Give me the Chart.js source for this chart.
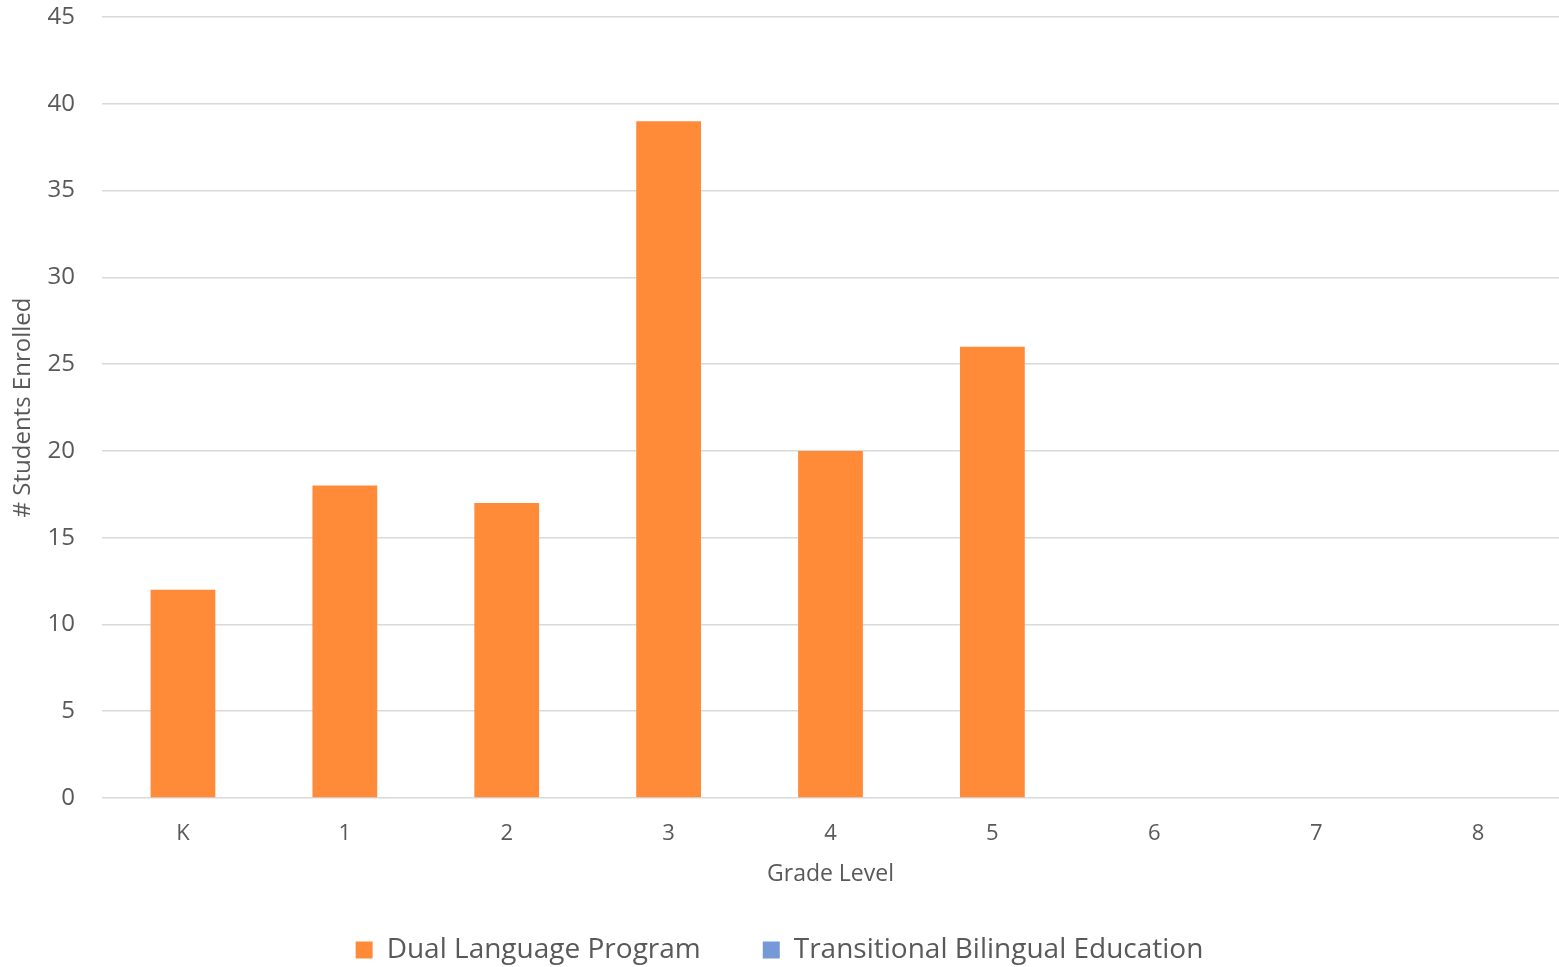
<!DOCTYPE html>
<html><head><meta charset="utf-8">
<script src="https://cdn.jsdelivr.net/npm/chart.js@4"></script>
<style>html,body{margin:0;padding:0;background:#fff}#wrap{width:1559px;height:967px}</style>
</head><body><div id="wrap"><canvas id="c" width="1559" height="967"></canvas></div>
<script>
const categories = ["K","1","2","3","4","5","6","7","8"];
const dualLanguage = [12,18,17,39,20,26,null,null,null];
const transitional = [null,null,null,null,null,null,null,null,null];
const yTicks = [0,5,10,15,20,25,30,35,40,45];

const FONT = "'Open Sans', sans-serif";
const TXT = "#595959";
new Chart(document.getElementById('c'), {
  type: 'bar',
  data: {
    labels: categories,
    datasets: [
      {label: "Dual Language Program", data: dualLanguage, backgroundColor: "#FF8A38", barPercentage: 0.4, categoryPercentage: 1.0, grouped: false},
      {label: "Transitional Bilingual Education", data: transitional, backgroundColor: "#7499D6", barPercentage: 0.4, categoryPercentage: 1.0, grouped: false}
    ]
  },
  options: {
    responsive: false, animation: false,
    layout: {padding: {top: 17, right: 0, left: 0, bottom: -7}},
    plugins: {
      tooltip: {enabled: false},
      legend: {position: 'bottom', labels: {font: {family: FONT, size: 28}, color: TXT, boxWidth: 17, boxHeight: 17, padding: 62}}
    },
    scales: {
      x: {
        grid: {display: false, drawTicks: false},
        border: {display: false},
        ticks: {font: {family: FONT, size: 22}, color: TXT, padding: 23},
        title: {display: true, text: "Grade Level", font: {family: FONT, size: 23}, color: TXT, padding: {top: 0, bottom: -14}},
        afterFit: s => { s.height = 76; }
      },
      y: {
        min: 0, max: 45,
        afterBuildTicks: s => { s.ticks = yTicks.map(v => ({value: v})); },
        grid: {color: "#d9d9d9", lineWidth: 1.5, drawTicks: false},
        border: {display: false},
        ticks: {font: {family: FONT, size: 24}, color: TXT, padding: 27},
        title: {display: true, text: "# Students Enrolled", font: {family: FONT, size: 24}, color: TXT, padding: {top: 9, bottom: 0}},
        afterFit: s => { s.width = 102; s.paddingTop = 0; s.paddingBottom = 0; }
      }
    }
  }
});
</script></body></html>
